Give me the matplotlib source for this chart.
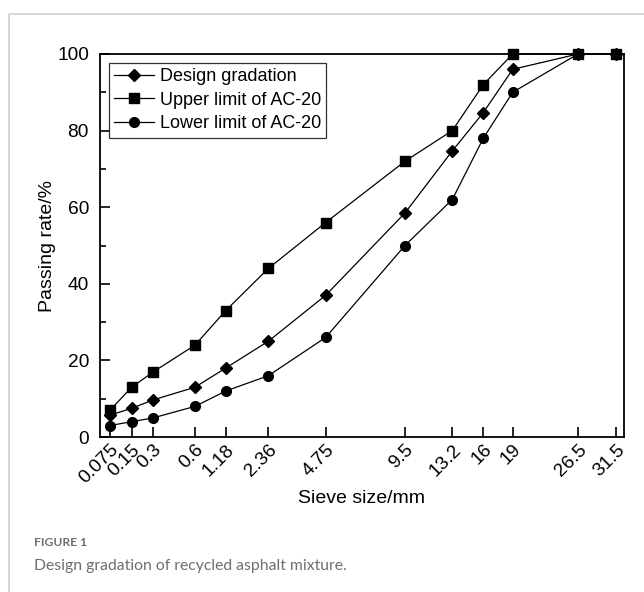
import numpy as np
import matplotlib
matplotlib.use('Agg')
import matplotlib.pyplot as plt
from matplotlib.patches import Rectangle

plt.rcParams['font.family'] = ['Liberation Sans', 'DejaVu Sans']

# sieve sizes (mm) and passing rates (%)
sieves = [0.075, 0.15, 0.3, 0.6, 1.18, 2.36, 4.75, 9.5, 13.2, 16, 19, 26.5, 31.5]
tick_labels = ['0.075', '0.15', '0.3', '0.6', '1.18', '2.36', '4.75', '9.5',
               '13.2', '16', '19', '26.5', '31.5']
design = [5.7, 7.5, 9.7, 13, 18, 25, 37, 58.5, 74.7, 84.7, 96, 100, 100]
upper = [7, 13, 17, 24, 33, 44, 56, 72, 80, 92, 100, 100, 100]
lower = [3, 4, 5, 8, 12, 16, 26, 50, 62, 78, 90, 100, 100]

# where each sieve sits along the x axis in the original figure (custom spacing)
axis_pos = [0, 21.7, 43.3, 85, 115.7, 158.3, 215.7, 295, 342.3, 373.3, 402.7, 468, 506]

ls = np.log(sieves)


def fwd(x):
    x = np.asarray(x, dtype=float)
    with np.errstate(divide='ignore', invalid='ignore'):
        lx = np.log(np.where(x > 0, x, 1e-6))
    # linear extrapolation outside the sieve range
    lo = axis_pos[0] + (lx - ls[0]) * (axis_pos[1] - axis_pos[0]) / (ls[1] - ls[0])
    hi = axis_pos[-1] + (lx - ls[-1]) * (axis_pos[-1] - axis_pos[-2]) / (ls[-1] - ls[-2])
    mid = np.interp(lx, ls, axis_pos)
    return np.where(lx < ls[0], lo, np.where(lx > ls[-1], hi, mid))


def inv(p):
    p = np.asarray(p, dtype=float)
    lo = ls[0] + (p - axis_pos[0]) * (ls[1] - ls[0]) / (axis_pos[1] - axis_pos[0])
    hi = ls[-1] + (p - axis_pos[-1]) * (ls[-1] - ls[-2]) / (axis_pos[-1] - axis_pos[-2])
    mid = np.interp(p, axis_pos, ls)
    return np.exp(np.where(p < axis_pos[0], lo, np.where(p > axis_pos[-1], hi, mid)))


fig = plt.figure(figsize=(6.44, 5.92), dpi=100)
fig.patches.append(Rectangle((9 / 644, -0.1), 1.2, 1 - 14 / 592 + 0.1, transform=fig.transFigure,
                             fill=False, edgecolor='#d0d0d0', linewidth=1.2))

ax = fig.add_axes([100 / 644, 1 - 437 / 592, 524 / 644, 383 / 592])
ax.set_xscale('function', functions=(fwd, inv))

ax.plot(sieves, design, '-D', color='black', lw=0.9, ms=6.5, label='Design gradation', clip_on=False)
ax.plot(sieves, upper, '-s', color='black', lw=0.9, ms=6.5, label='Upper limit of AC-20', clip_on=False)
ax.plot(sieves, lower, '-o', color='black', lw=0.9, ms=7, label='Lower limit of AC-20', clip_on=False)

ax.set_xlim(inv(-10), inv(514))
ax.set_ylim(0, 100)
ax.set_xticks(sieves)
ax.set_xticklabels(tick_labels, rotation=45, ha='right', rotation_mode='anchor')
ax.xaxis.set_minor_locator(matplotlib.ticker.NullLocator())
ax.set_yticks([0, 20, 40, 60, 80, 100])
ax.set_yticks([10, 30, 50, 70, 90], minor=True)

ax.tick_params(axis='both', which='major', direction='in', length=7, width=1.2, labelsize=13.8)
ax.tick_params(axis='y', which='minor', direction='in', length=4, width=1.2)
ax.tick_params(axis='x', pad=3)
ax.tick_params(axis='y', pad=8)
for s in ax.spines.values():
    s.set_linewidth(1.3)

ax.set_xlabel('Sieve size/mm', fontsize=14, labelpad=2)
ax.set_ylabel('Passing rate/%', fontsize=14, labelpad=1)

leg = ax.legend(loc='upper left', fontsize=13, frameon=True, fancybox=False, edgecolor='black',
                borderpad=0.3, labelspacing=0.35, handlelength=2.2, handletextpad=0.3,
                borderaxespad=0.5)
leg.get_frame().set_linewidth(0.9)

fig.text(34 / 644, 1 - 543 / 592, 'FIGURE 1', fontsize=8.7, color='#6e6e6e', fontweight='bold',
         family=['Lato', 'DejaVu Sans'], va='center')
fig.text(34 / 644, 1 - 566 / 592, 'Design gradation of recycled asphalt mixture.', fontsize=11.3,
         color='#6e6e6e', family=['Lato', 'DejaVu Sans'], va='center')

plt.savefig('out.png', dpi=100)
